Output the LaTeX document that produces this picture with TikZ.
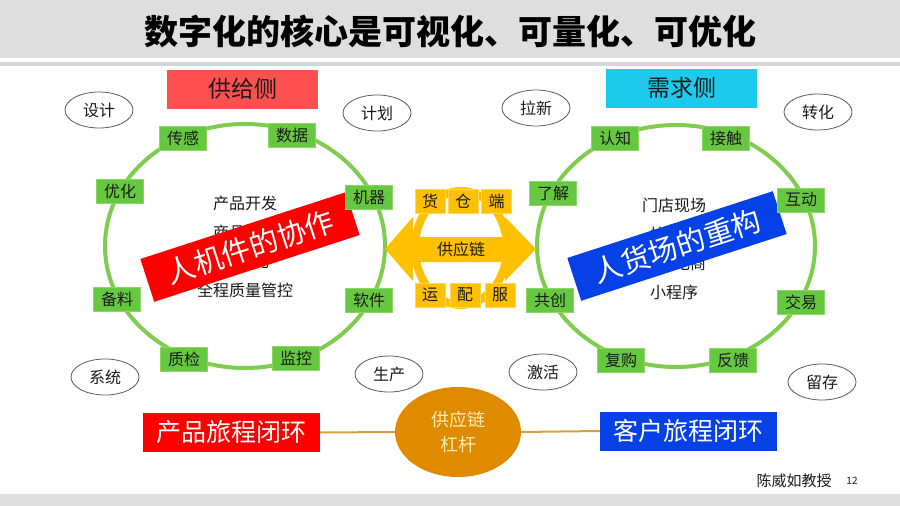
\documentclass[tikz,border=0pt]{standalone}
\usepackage{fontspec}
\setmainfont{Noto Sans CJK SC}
\usetikzlibrary{shapes.geometric}
\definecolor{bandgray}{RGB}{222,222,222}
\definecolor{linegray}{RGB}{214,214,214}
\definecolor{txt}{RGB}{26,26,26}
\definecolor{ringgreen}{RGB}{128,204,78}
\definecolor{gfill}{RGB}{102,200,64}
\definecolor{gborder}{RGB}{140,214,100}
\definecolor{ovalgray}{RGB}{90,90,90}
\definecolor{ygold}{RGB}{255,192,0}
\definecolor{yborder}{RGB}{255,214,90}
\definecolor{supred}{RGB}{255,80,80}
\definecolor{demcyan}{RGB}{28,202,236}
\definecolor{bred}{RGB}{255,0,0}
\definecolor{bblue}{RGB}{5,65,230}
\definecolor{levorange}{RGB}{224,138,0}
\definecolor{levtext}{RGB}{255,236,180}
\definecolor{linkcol}{RGB}{212,160,60}
\begin{document}
\begin{tikzpicture}[x=1pt,y=-1pt,
  gbox/.style={draw=gborder,fill=gfill,line width=0.8pt,minimum width=47pt,minimum height=24pt,inner sep=0pt,text=txt,font=\fontsize{16}{18}\selectfont},
  oval/.style={ellipse,draw=ovalgray,fill=white,line width=0.8pt,minimum width=68pt,minimum height=36pt,inner sep=0pt,text=txt,font=\fontsize{16}{18}\selectfont},
  ybox/.style={draw=yborder,fill=ygold,line width=0.8pt,minimum width=30pt,minimum height=24pt,inner sep=0pt,text=txt,font=\fontsize{16}{18}\selectfont},
  ring/.style={draw=ringgreen,line width=4pt},
  side/.style={minimum width=151pt,minimum height=39pt,inner sep=0pt,text=txt,font=\fontsize{23}{26}\selectfont},
  banner/.style={rotate=18,minimum width=216pt,minimum height=45pt,inner sep=0pt,text=white,font=\fontsize{29}{32}\selectfont},
  loop/.style={minimum width=177pt,minimum height=39pt,inner sep=0pt,text=white,font=\fontsize{25}{28}\selectfont},
  midtext/.style={align=center,text=txt,font=\fontsize{16}{29}\selectfont},
  link/.style={draw=linkcol,line width=2pt}
]
\useasboundingbox (0,0) rectangle (900,506);
\fill[white] (0,0) rectangle (900,506);
\fill[bandgray] (0,0) rectangle (900,58);
\fill[linegray] (0,62) rectangle (900,66);
\fill[bandgray] (0,494) rectangle (900,506);
\node[text=black,font=\fontsize{34}{40}\selectfont\bfseries] (title) at (450,31) {数字化的核心是可视化、可量化、可优化};

% side headers
\node[side,fill=supred] (supply) at (242.5,89) {供给侧};
\node[side,fill=demcyan] (demand) at (681.5,88) {需求侧};

% rings
\draw[ring] (245,246) ellipse [x radius=140pt, y radius=122pt];
\draw[ring] (676,246) ellipse [x radius=139pt, y radius=121pt];

% inner texts
\node[midtext] (ltext) at (245,247) {产品开发\\商品企划\\智能化\\全程质量管控};
\node[midtext] (rtext) at (674,249) {门店现场\\快闪店\\直播电商\\小程序};

% banners
\node[banner,fill=bred] (lbanner) at (250,247) {人机件的协作};
\node[banner,fill=bblue] (rbanner) at (677,246) {人货场的重构};

% left green boxes
\node[gbox] (l1) at (183,138) {传感};
\node[gbox] (l2) at (292,135) {数据};
\node[gbox] (l3) at (120,191) {优化};
\node[gbox] (l4) at (369,197) {机器};
\node[gbox] (l5) at (117,299) {备料};
\node[gbox] (l6) at (369,300) {软件};
\node[gbox] (l7) at (184,359) {质检};
\node[gbox] (l8) at (296,358) {监控};

% right green boxes
\node[gbox] (r1) at (615,138) {认知};
\node[gbox] (r2) at (726,138) {接触};
\node[gbox] (r3) at (553,193) {了解};
\node[gbox] (r4) at (801,200) {互动};
\node[gbox] (r5) at (550,300) {共创};
\node[gbox] (r6) at (801,302) {交易};
\node[gbox] (r7) at (621,360) {复购};
\node[gbox] (r8) at (733,360) {反馈};

% ovals
\node[oval] (o1) at (99,110) {设计};
\node[oval] (o2) at (377,113) {计划};
\node[oval] (o3) at (105,377) {系统};
\node[oval] (o4) at (389,374) {生产};
\node[oval] (o5) at (536,108) {拉新};
\node[oval] (o6) at (818,112) {转化};
\node[oval] (o7) at (543,372) {激活};
\node[oval] (o8) at (822,382) {留存};

% supply chain hub
\fill[ygold] (385,249) -- (413,217) -- (413,237) -- (505,237) -- (505,217) -- (536,249) -- (505,281) -- (505,262) -- (413,262) -- (413,281) -- cycle;
\draw[ygold,line width=8pt] (461,248) ellipse [x radius=46pt, y radius=57pt];
\node[ybox] (c1) at (430,201) {货};
\node[ybox] (c2) at (463,201) {仓};
\node[ybox] (c3) at (496.5,201) {端};
\node[ybox] (c4) at (430,295) {运};
\node[ybox] (c5) at (465,295) {配};
\node[ybox] (c6) at (500,295) {服};
\node[text=txt,font=\fontsize{16}{18}\selectfont] (hub) at (461,249) {供应链};

% bottom
\node[loop,fill=bred] (pbox) at (231.5,432.5) {产品旅程闭环};
\node[loop,fill=bblue] (cbox) at (688.5,431) {客户旅程闭环};
\node[ellipse,fill=levorange,minimum width=126pt,minimum height=90pt,inner sep=0pt,align=center,text=levtext,font=\fontsize{18}{25}\selectfont] (lev) at (458,432) {供应链\\杠杆};
\draw[link] (pbox.east) -- (lev.west);
\draw[link] (lev.east) -- (cbox.west);

% footer
\node[text=txt,font=\fontsize{15}{17}\selectfont] (author) at (794,481) {陈威如教授};
\node[text=txt,font=\fontsize{10}{12}\selectfont] (page) at (852,481) {12};
\end{tikzpicture}
\end{document}
